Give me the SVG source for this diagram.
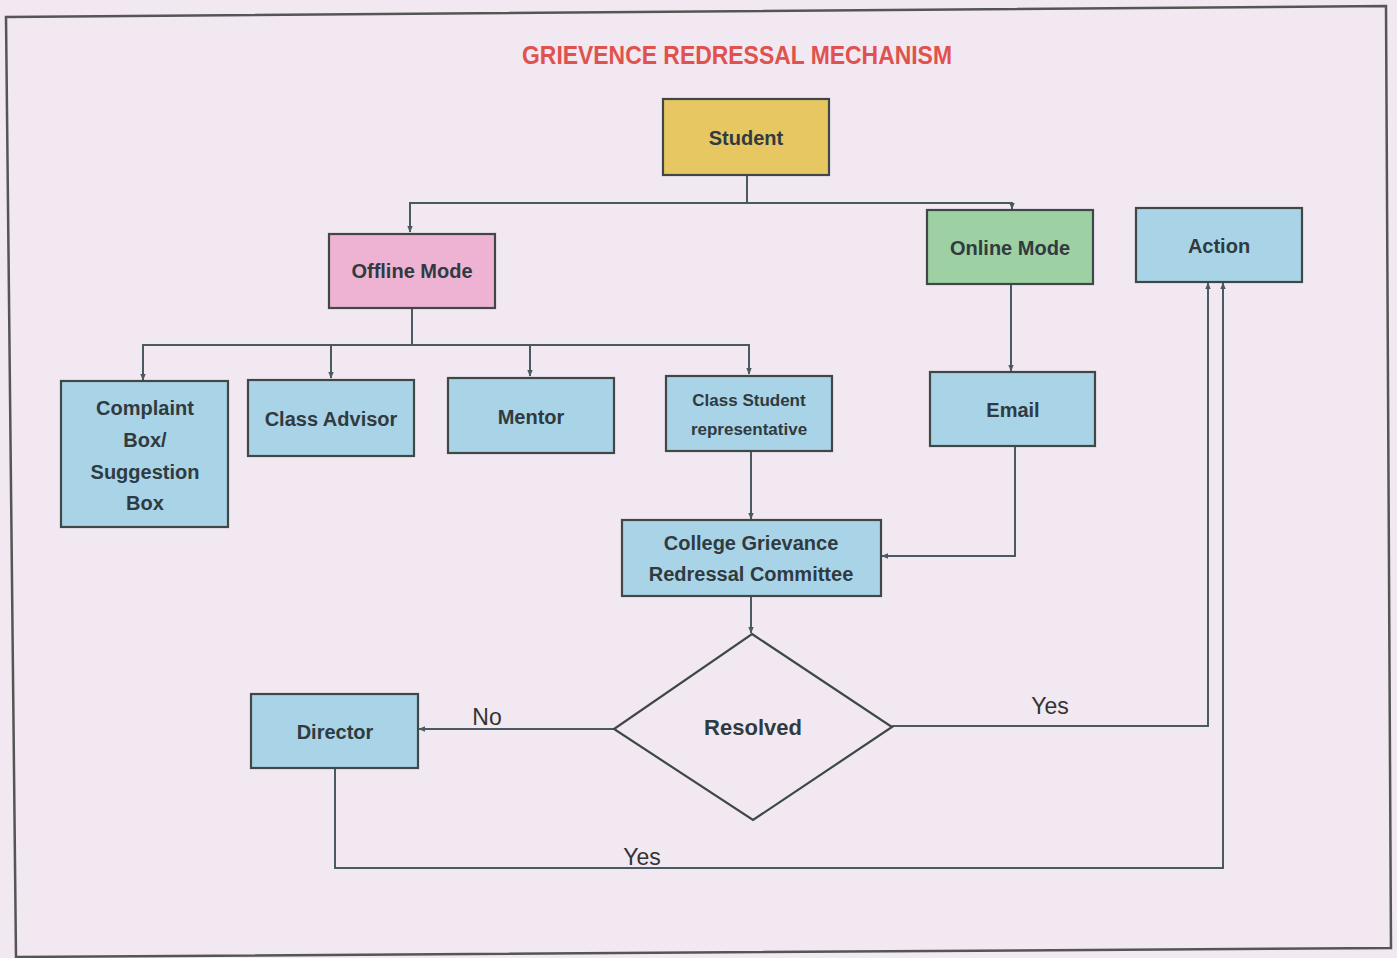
<svg xmlns="http://www.w3.org/2000/svg" width="1397" height="958" viewBox="0 0 1397 958">
<style>
.box{stroke:#3f4747;stroke-width:2.2}
.blue{fill:#a9d3e6}
.t{font-family:"Liberation Sans",Arial,sans-serif;font-weight:bold;font-size:20px;fill:#2f3b40;text-anchor:middle;dominant-baseline:central}
.lbl{font-family:"Liberation Sans",Arial,sans-serif;font-size:23px;fill:#333;text-anchor:middle;dominant-baseline:central}
.c{fill:none;stroke:#4a5a62;stroke-width:2}
</style>
<defs>
<marker id="ah" viewBox="0 0 10 10" refX="9" refY="5" markerWidth="7" markerHeight="7" markerUnits="userSpaceOnUse" orient="auto">
<path d="M0,1 L10,5 L0,9 z" fill="#4a5a62"/>
</marker>
</defs>
<rect x="0" y="0" width="1397" height="958" fill="#f2e8f2"/>
<polygon points="6,17 1386,6 1391,948 16,957" fill="none" stroke="#555" stroke-width="2.5"/>
<text x="737" y="55" font-family="Liberation Sans,Arial,sans-serif" font-weight="bold" font-size="25" fill="#e0524e" text-anchor="middle" dominant-baseline="central" textLength="430" lengthAdjust="spacingAndGlyphs">GRIEVENCE REDRESSAL MECHANISM</text>

<g id="connectors">
<path class="c" d="M747,175 V203"/>
<path class="c" d="M747,203 H410 V232" marker-end="url(#ah)"/>
<path class="c" d="M747,203 H1012 V209" marker-end="url(#ah)"/>
<path class="c" d="M412,308 V345"/>
<path class="c" d="M412,345 H143 V380" marker-end="url(#ah)"/>
<path class="c" d="M331,345 V378" marker-end="url(#ah)"/>
<path class="c" d="M530,345 V376" marker-end="url(#ah)"/>
<path class="c" d="M412,345 H749 V374" marker-end="url(#ah)"/>
<path class="c" d="M1011,284 V371" marker-end="url(#ah)"/>
<path class="c" d="M751,451 V519" marker-end="url(#ah)"/>
<path class="c" d="M1015,446 V556 H882" marker-end="url(#ah)"/>
<path class="c" d="M751,596 V633" marker-end="url(#ah)"/>
<path class="c" d="M614,729 H419" marker-end="url(#ah)"/>
<path class="c" d="M892,726 H1208 V283" marker-end="url(#ah)"/>
<path class="c" d="M335,768 V868 H1223 V283" marker-end="url(#ah)"/>
<text class="lbl" x="487" y="717">No</text>
<text class="lbl" x="1050" y="706">Yes</text>
<text class="lbl" x="642" y="857">Yes</text>
</g>

<g id="student"><rect class="box" x="663" y="99" width="166" height="76" fill="#e6c762"/><text class="t" x="746" y="138">Student</text></g>
<g id="offline"><rect class="box" x="329" y="234" width="166" height="74" fill="#eeb3d3"/><text class="t" x="412" y="271">Offline Mode</text></g>
<g id="online"><rect class="box" x="927" y="210" width="166" height="74" fill="#9dd0a2"/><text class="t" x="1010" y="248">Online Mode</text></g>
<g id="action"><rect class="box blue" x="1136" y="208" width="166" height="74"/><text class="t" x="1219" y="246">Action</text></g>
<g id="complaint"><rect class="box blue" x="61" y="381" width="167" height="146"/>
<text class="t" x="145" y="408">Complaint</text><text class="t" x="145" y="440">Box/</text><text class="t" x="145" y="472">Suggestion</text><text class="t" x="145" y="503">Box</text></g>
<g id="advisor"><rect class="box blue" x="248" y="380" width="166" height="76"/><text class="t" x="331" y="419">Class Advisor</text></g>
<g id="mentor"><rect class="box blue" x="448" y="378" width="166" height="75"/><text class="t" x="531" y="417">Mentor</text></g>
<g id="csr"><rect class="box blue" x="666" y="376" width="166" height="75"/><text class="t" x="749" y="400" style="font-size:17px">Class Student</text><text class="t" x="749" y="429" style="font-size:17px">representative</text></g>
<g id="email"><rect class="box blue" x="930" y="372" width="165" height="74"/><text class="t" x="1013" y="410">Email</text></g>
<g id="cgrc"><rect class="box blue" x="622" y="520" width="259" height="76"/><text class="t" x="751" y="543">College Grievance</text><text class="t" x="751" y="574">Redressal Committee</text></g>
<g id="resolved"><polygon class="box" points="752,634 892,727 753,820 614,729" fill="#f2e8f2"/><text class="t" x="753" y="727" style="font-size:22px">Resolved</text></g>
<g id="director"><rect class="box blue" x="251" y="694" width="167" height="74"/><text class="t" x="335" y="732">Director</text></g>
</svg>
